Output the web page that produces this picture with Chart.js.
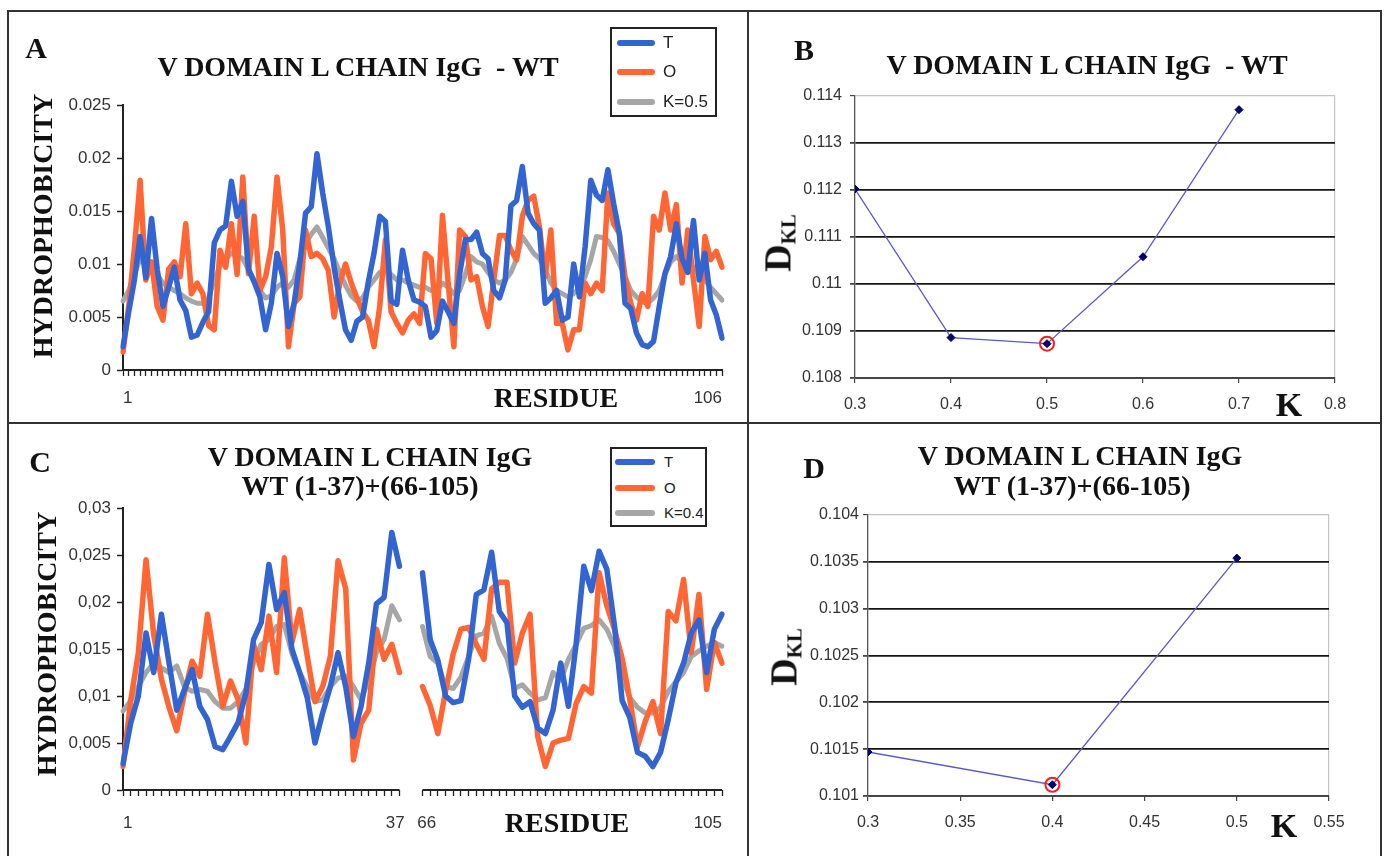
<!DOCTYPE html>
<html>
<head>
<meta charset="utf-8">
<script src="https://cdn.jsdelivr.net/npm/chart.js@4.4.1/dist/chart.umd.min.js"></script>
<style>
html,body{margin:0;padding:0;background:#fff;}
body{width:1385px;height:856px;overflow:hidden;position:relative;}
canvas{position:absolute;}
.frame{position:absolute;background:#333;}
.lbl{position:absolute;font-family:"Liberation Serif","Times New Roman",serif;font-weight:bold;color:#111;white-space:nowrap;line-height:1;transform:translate(-50%,-50%);}
.rot{transform:translate(-50%,-50%) rotate(-90deg);}
.legend{position:absolute;border:2px solid #222;box-sizing:border-box;background:#fff;}
.legrow{position:absolute;left:0;right:0;height:20px;}
.sw{position:absolute;height:6px;border-radius:3px;top:7px;}
.lt{position:absolute;top:0;font-family:"Liberation Sans",Arial,sans-serif;color:#222;line-height:20px;}
sub{font-size:0.55em;vertical-align:-0.25em;}
</style>
</head>
<body>
<!-- frame -->
<div class="frame" style="left:7px;top:10px;width:1375px;height:2px;"></div>
<div class="frame" style="left:7px;top:10px;width:2px;height:846px;"></div>
<div class="frame" style="left:1380px;top:10px;width:2px;height:846px;"></div>
<div class="frame" style="left:747px;top:10px;width:2px;height:846px;"></div>
<div class="frame" style="left:7px;top:422px;width:1375px;height:2px;"></div>

<canvas id="chartA" width="737" height="409" style="left:10px;top:13px;"></canvas>
<canvas id="chartB" width="630" height="409" style="left:749px;top:13px;"></canvas>
<canvas id="chartC" width="737" height="431" style="left:10px;top:425px;"></canvas>
<canvas id="chartD" width="630" height="431" style="left:749px;top:425px;"></canvas>

<!-- text overlays -->
<div class="lbl" style="left:36px;top:48px;font-size:30px;">A</div>
<div class="lbl" style="left:804px;top:50px;font-size:30px;">B</div>
<div class="lbl" style="left:40px;top:462px;font-size:30px;">C</div>
<div class="lbl" style="left:814px;top:468px;font-size:30px;">D</div>

<div class="lbl" style="left:358px;top:67px;font-size:28px;">V DOMAIN L CHAIN IgG&nbsp; - WT</div>
<div class="lbl" style="left:1087px;top:65px;font-size:28px;">V DOMAIN L CHAIN IgG&nbsp; - WT</div>
<div class="lbl" style="left:370px;top:457px;font-size:28px;">V DOMAIN L CHAIN IgG</div>
<div class="lbl" style="left:360px;top:486px;font-size:28px;">WT (1-37)+(66-105)</div>
<div class="lbl" style="left:1080px;top:456px;font-size:28px;">V DOMAIN L CHAIN IgG</div>
<div class="lbl" style="left:1072px;top:486px;font-size:28px;">WT (1-37)+(66-105)</div>

<div class="lbl rot" style="left:43px;top:226px;font-size:28px;">HYDROPHOBICITY</div>
<div class="lbl rot" style="left:47px;top:644px;font-size:28px;">HYDROPHOBICITY</div>
<div class="lbl" style="left:556px;top:398px;font-size:28px;">RESIDUE</div>
<div class="lbl" style="left:567px;top:823px;font-size:28px;">RESIDUE</div>

<div class="lbl rot" style="left:779px;top:243px;font-size:38px;">D<sub>KL</sub></div>
<div class="lbl rot" style="left:785px;top:657px;font-size:38px;">D<sub>KL</sub></div>
<div class="lbl" style="left:1289px;top:405px;font-size:34px;">K</div>
<div class="lbl" style="left:1284px;top:826px;font-size:34px;">K</div>

<div id="legA" class="legend" style="left:610px;top:27px;width:107px;height:90px;"></div>
<div id="legC" class="legend" style="left:610px;top:447px;width:97px;height:80px;"></div>

<script>
// ---------------- DATA ----------------
const seriesNames = ['T', 'O'];
const kLabelA = 'K=0.5';
const kLabelC = 'K=0.4';

// Panel A : residues 1..106
const residuesA = Array.from({length: 106}, (_, i) => String(i + 1));
const hydroA_T = [
 0.0022,0.0055,0.0085,0.0126,0.0087,0.0143,0.0095,0.006,0.0078,0.0097,
 0.0066,0.0056,0.0031,0.0033,0.0045,0.0055,0.012,0.0132,0.0136,0.0178,
 0.0145,0.0159,0.0095,0.0083,0.0069,0.0038,0.0063,0.011,0.0088,0.0041,
 0.0063,0.0101,0.0148,0.0154,0.0204,0.0167,0.0135,0.0097,0.0066,0.0038,
 0.0028,0.0046,0.005,0.0083,0.011,0.0145,0.014,0.0065,0.0062,0.0113,
 0.0085,0.0066,0.0064,0.006,0.0031,0.0037,0.0065,0.0055,0.0044,0.009,
 0.0123,0.0123,0.013,0.011,0.0105,0.0075,0.0068,0.0085,0.0155,0.016,
 0.0192,0.0148,0.0138,0.0132,0.0063,0.0068,0.0075,0.0047,0.005,0.01,
 0.0069,0.0116,0.0179,0.0165,0.016,0.0189,0.0157,0.0129,0.0063,0.0058,
 0.0035,0.0024,0.0022,0.0027,0.006,0.0091,0.0107,0.0138,0.0105,0.0092,
 0.0141,0.0085,0.011,0.0066,0.0052,0.003];
const hydroA_O = [
 0.0017,0.006,0.0115,0.0179,0.0085,0.0102,0.006,0.0047,0.0095,0.0102,
 0.0088,0.0138,0.0072,0.0082,0.0072,0.0042,0.0038,0.0113,0.0097,0.0138,
 0.009,0.0182,0.0091,0.0145,0.0075,0.0088,0.0116,0.0182,0.0132,0.0022,
 0.0063,0.0069,0.0132,0.0107,0.011,0.0105,0.0094,0.005,0.0082,0.01,
 0.0082,0.0068,0.0055,0.0047,0.0022,0.006,0.0123,0.0055,0.0044,0.0035,
 0.0047,0.0053,0.0044,0.011,0.0105,0.0044,0.0146,0.0082,0.0022,0.0132,
 0.0126,0.0085,0.0088,0.006,0.0041,0.0085,0.0127,0.0127,0.0113,0.0104,
 0.0145,0.016,0.0164,0.0135,0.0088,0.0132,0.0044,0.0044,0.0019,0.0038,
 0.0038,0.0082,0.0072,0.0082,0.0075,0.0167,0.0138,0.0129,0.0088,0.0063,
 0.0047,0.0072,0.006,0.0145,0.0132,0.0167,0.0132,0.0156,0.0082,0.0132,
 0.0085,0.0041,0.0126,0.0104,0.0112,0.0097];
const hydroA_K = [
 0.0065,0.0075,0.009,0.0105,0.0102,0.0098,0.009,0.0082,0.0078,0.0075,
 0.0072,0.0068,0.0065,0.0063,0.0063,0.0068,0.0085,0.0098,0.0105,0.011,
 0.0108,0.0105,0.0095,0.0085,0.0075,0.0068,0.007,0.0078,0.0082,0.0078,
 0.0085,0.0105,0.012,0.0128,0.0135,0.0125,0.0115,0.0105,0.0092,0.008,
 0.007,0.0065,0.0068,0.0078,0.0085,0.0092,0.0095,0.009,0.0085,0.0085,
 0.0082,0.008,0.0078,0.0078,0.0075,0.0075,0.0082,0.0078,0.0072,0.0075,
 0.009,0.0107,0.0102,0.01,0.0092,0.0085,0.0082,0.0085,0.0092,0.0105,
 0.0126,0.0118,0.011,0.0105,0.0095,0.0082,0.0075,0.0072,0.0069,0.0072,
 0.0078,0.0088,0.0104,0.0126,0.0125,0.0122,0.0112,0.01,0.0088,0.0075,
 0.0069,0.0064,0.0063,0.0068,0.0075,0.009,0.0102,0.0107,0.0102,0.0098,
 0.0097,0.009,0.0085,0.0078,0.0072,0.0066];
const yTicksA = [0, 0.005, 0.01, 0.015, 0.02, 0.025];
const yLabelsA = ['0', '0.005', '0.01', '0.015', '0.02', '0.025'];

// Panel C : residues 1..37 and 66..105
const residuesC1 = Array.from({length: 37}, (_, i) => String(i + 1));
const residuesC2 = Array.from({length: 40}, (_, i) => String(i + 66));
const hydroC1_T = [0.0028,0.0071,0.01,0.0167,0.0125,0.0187,0.0135,0.0085,0.0107,0.0128,
 0.0089,0.0075,0.0046,0.0043,0.0057,0.0072,0.0103,0.016,0.0178,0.024,
 0.0192,0.021,0.015,0.0125,0.0098,0.005,0.0082,0.011,0.0146,0.011,
 0.0057,0.0089,0.0135,0.0198,0.0205,0.0274,0.0238];
const hydroC1_O = [0.0025,0.0095,0.0146,0.0245,0.0165,0.0118,0.0088,0.0063,0.0103,0.0137,
 0.0121,0.0187,0.0135,0.0089,0.0116,0.0096,0.005,0.0155,0.0128,0.0185,
 0.0125,0.0247,0.0157,0.0192,0.0142,0.0094,0.011,0.0142,0.0244,0.0214,
 0.0032,0.0071,0.0085,0.0171,0.0139,0.0155,0.0125];
const hydroC1_K = [0.0084,0.0095,0.011,0.0125,0.0135,0.013,0.0125,0.0132,0.011,0.0105,
 0.0107,0.0105,0.0094,0.0087,0.0087,0.0094,0.0107,0.0135,0.0155,0.016,
 0.0174,0.0176,0.0145,0.0125,0.011,0.0094,0.0096,0.011,0.0119,0.0121,
 0.011,0.0096,0.0117,0.0146,0.016,0.0196,0.0181];
const hydroC2_T = [0.0231,0.016,0.0138,0.01,0.0093,0.0095,0.0139,0.0208,0.0213,0.0253,
 0.019,0.0178,0.01,0.0088,0.0094,0.0066,0.006,0.0085,0.0135,0.0089,
 0.0155,0.0238,0.0212,0.0254,0.0235,0.0175,0.0095,0.0077,0.004,0.0036,
 0.0025,0.004,0.0075,0.0114,0.0135,0.0167,0.0181,0.0125,0.0171,0.0187];
const hydroC2_O = [0.011,0.009,0.006,0.0105,0.0145,0.0171,0.0173,0.0155,0.0139,0.0214,
 0.0221,0.0221,0.0135,0.0167,0.0187,0.0057,0.0025,0.005,0.0053,0.0055,
 0.0092,0.011,0.0103,0.0231,0.0196,0.0171,0.014,0.0096,0.0046,0.0073,
 0.0094,0.006,0.019,0.018,0.0224,0.0146,0.0208,0.0107,0.0157,0.0135];
const hydroC2_K = [0.0174,0.0142,0.0135,0.011,0.0108,0.012,0.0142,0.0164,0.0167,0.0185,
 0.0156,0.014,0.0108,0.0112,0.0103,0.0096,0.0098,0.0125,0.0117,0.0139,
 0.0155,0.0172,0.0175,0.0181,0.0171,0.0153,0.012,0.0098,0.0088,0.0082,
 0.0082,0.0088,0.0105,0.0115,0.0125,0.0142,0.0148,0.0153,0.0157,0.0153];
const yTicksC = [0, 0.005, 0.01, 0.015, 0.02, 0.025, 0.03];
const yLabelsC = ['0', '0,005', '0,01', '0,015', '0,02', '0,025', '0,03'];

// Panel B
const kB = [0.3, 0.4, 0.5, 0.6, 0.7];
const dklB = [0.11202, 0.10886, 0.10873, 0.11058, 0.11371];
const xTicksB = [0.3, 0.4, 0.5, 0.6, 0.7, 0.8];
const xLabelsB = ['0.3', '0.4', '0.5', '0.6', '0.7', '0.8'];
const yTicksB = [0.108, 0.109, 0.110, 0.111, 0.112, 0.113, 0.114];
const yLabelsB = ['0.108', '0.109', '0.11', '0.111', '0.112', '0.113', '0.114'];

// Panel D
const kD = [0.3, 0.4, 0.5];
const dklD = [0.10147, 0.10112, 0.10354];
const xTicksD = [0.3, 0.35, 0.4, 0.45, 0.5, 0.55];
const xLabelsD = ['0.3', '0.35', '0.4', '0.45', '0.5', '0.55'];
const yTicksD = [0.101, 0.1015, 0.102, 0.1025, 0.103, 0.1035, 0.104];
const yLabelsD = ['0.101', '0.1015', '0.102', '0.1025', '0.103', '0.1035', '0.104'];

// ---------------- STYLE ----------------
const colT = '#3264d2';
const colO = '#ff6633';
const colK = '#a6a6a6';

Chart.defaults.font.family = "'Liberation Sans', Arial, sans-serif";
Chart.defaults.color = '#333';
Chart.defaults.animation = false;
Chart.defaults.plugins.legend.display = false;
Chart.defaults.plugins.tooltip.enabled = false;

// legends (HTML)
function buildLegend(id, items, swLeft, swW, txtLeft, rowCenters, fontSize) {
  const box = document.getElementById(id);
  items.forEach((it, i) => {
    const row = document.createElement('div');
    row.className = 'legrow';
    row.style.top = (rowCenters[i] - 10) + 'px';
    const sw = document.createElement('div');
    sw.className = 'sw';
    sw.style.left = swLeft + 'px'; sw.style.width = swW + 'px'; sw.style.background = it.color;
    const t = document.createElement('div');
    t.className = 'lt';
    t.style.left = txtLeft + 'px'; t.style.fontSize = fontSize + 'px';
    t.textContent = it.label;
    row.appendChild(sw); row.appendChild(t);
    box.appendChild(row);
  });
}
buildLegend('legA', [{label: seriesNames[0], color: colT}, {label: seriesNames[1], color: colO}, {label: kLabelA, color: colK}], 5, 38, 51, [14, 43, 73], 17);
buildLegend('legC', [{label: seriesNames[0], color: colT}, {label: seriesNames[1], color: colO}, {label: kLabelC, color: colK}], 3, 40, 52, [13, 39, 64], 15);

// broken x-axis plugin for panel C
const brokenAxis = {
  id: 'brokenAxis',
  afterDraw(chart, args, opts) {
    if (!opts.segments) return;
    const ctx = chart.ctx, xs = chart.scales.x, y = chart.chartArea.bottom;
    ctx.save();
    ctx.strokeStyle = '#222'; ctx.lineWidth = 2;
    opts.segments.forEach(([a, b]) => {
      ctx.beginPath();
      ctx.moveTo(xs.getPixelForValue(a) - (a === 0 ? 1 : 0), y);
      ctx.lineTo(xs.getPixelForValue(b), y);
      ctx.stroke();
    });
    ctx.restore();
  }
};
Chart.register(brokenAxis);

function profileChart(id, o) {
  return new Chart(document.getElementById(id), {
    type: 'line',
    data: {
      labels: o.labels,
      datasets: [
        {label: seriesNames[0], data: o.T, borderColor: colT, borderWidth: 5.5},
        {label: seriesNames[1], data: o.O, borderColor: colO, borderWidth: 5.5},
        {label: o.kLabel, data: o.K, borderColor: colK, borderWidth: 5}
      ].map(d => Object.assign(d, {pointRadius: 0, tension: 0, borderJoinStyle: 'round', borderCapStyle: 'round', spanGaps: false, fill: false}))
    },
    options: {
      responsive: false, maintainAspectRatio: false, devicePixelRatio: 1,
      layout: {padding: {top: o.padTop, right: o.padRight, left: 0, bottom: 0}},
      plugins: {brokenAxis: {segments: o.segments}},
      scales: {
        x: {
          type: 'category', offset: false,
          ticks: {autoSkip: false, maxRotation: 0, minRotation: 0, align: 'inner', padding: o.xPad,
                  font: {size: 17}, color: '#333',
                  callback: (v, i) => {
                    if (!o.shownX.includes(i)) return '';
                    const pad = (o.labelPad && o.labelPad[i]) || '';
                    return pad === 'after' ? o.labels[i] + '\u2002' : pad === 'before' ? '\u2002' + o.labels[i] : o.labels[i];
                  }},
          grid: {display: true, drawOnChartArea: false, drawTicks: true, tickLength: 6, tickWidth: 1.3,
                 tickColor: ctx => (o.hiddenTicks && o.hiddenTicks.includes(ctx.index)) ? 'rgba(0,0,0,0)' : '#222'},
          border: {display: !o.segments, color: '#222', width: 2},
          afterFit: s => { s.height = o.xH; }
        },
        y: {
          min: 0, max: o.yTicks[o.yTicks.length - 1],
          afterBuildTicks: s => { s.ticks = o.yTicks.map(v => ({value: v})); },
          ticks: {padding: 6, font: {size: 17}, color: '#333', callback: (v, i) => o.yLabels[i]},
          grid: {display: true, drawOnChartArea: false, drawTicks: true, tickLength: 6, tickWidth: 1.5, tickColor: '#222'},
          border: {display: true, color: '#222', width: 2},
          afterFit: s => { s.width = o.yW; }
        }
      }
    }
  });
}

profileChart('chartA', {
  labels: residuesA, T: hydroA_T, O: hydroA_O, K: hydroA_K, kLabel: kLabelA,
  yTicks: yTicksA, yLabels: yLabelsA,
  padTop: 92, padRight: 25, yW: 113, xH: 52, xPad: 12,
  shownX: [0, residuesA.length - 1]
});

const labelsC = [...residuesC1, '', '', ...residuesC2];
const gapC = [null, null];
const i37 = residuesC1.length - 1, i66 = residuesC1.length + gapC.length;
profileChart('chartC', {
  labels: labelsC,
  T: [...hydroC1_T, ...gapC, ...hydroC2_T],
  O: [...hydroC1_O, ...gapC, ...hydroC2_O],
  K: [...hydroC1_K, ...gapC, ...hydroC2_K],
  kLabel: kLabelC,
  yTicks: yTicksC, yLabels: yLabelsC,
  padTop: 83, padRight: 25, yW: 113, xH: 66, xPad: 17,
  shownX: [0, i37, i66, labelsC.length - 1],
  labelPad: {[i37]: 'after', [i66]: 'before'},
  hiddenTicks: [i37 + 1, i37 + 2],
  segments: [[0, i37], [i66, labelsC.length - 1]]
});

function dklChart(id, o) {
  const minIdx = o.d.indexOf(Math.min(...o.d));
  const lastY = o.yTicks.length - 1, lastX = o.xTicks.length - 1;
  return new Chart(document.getElementById(id), {
    type: 'line',
    data: {
      datasets: [
        {data: [{x: o.k[minIdx], y: o.d[minIdx]}], showLine: false, pointRadius: 7, pointBorderWidth: 2,
         pointBorderColor: '#ff1a1a', pointBackgroundColor: 'rgba(0,0,0,0)'},
        {data: o.k.map((k, i) => ({x: k, y: o.d[i]})), borderColor: '#5a5ac4', borderWidth: 1.3, tension: 0,
         pointStyle: 'rectRot', pointRadius: 4, pointBackgroundColor: '#00006e', pointBorderColor: '#00006e', pointBorderWidth: 1}
      ]
    },
    options: {
      responsive: false, maintainAspectRatio: false, devicePixelRatio: 1,
      layout: {padding: {top: o.padTop, right: o.padRight, left: 0, bottom: 0}},
      scales: {
        x: {
          type: 'linear', min: o.xTicks[0], max: o.xTicks[lastX],
          afterBuildTicks: s => { s.ticks = o.xTicks.map(v => ({value: v})); },
          ticks: {padding: 12, font: {size: 16}, color: '#333', maxRotation: 0, callback: (v, i) => o.xLabels[i]},
          grid: {display: true, drawOnChartArea: true, drawTicks: true, tickLength: 5, tickColor: '#444',
                 color: ctx => ctx.index === lastX ? '#c4c4c4' : 'rgba(0,0,0,0)', lineWidth: 1.2},
          border: {display: true, color: '#444', width: 1.5},
          afterFit: s => { s.height = o.xH; }
        },
        y: {
          min: o.yTicks[0], max: o.yTicks[lastY],
          afterBuildTicks: s => { s.ticks = o.yTicks.map(v => ({value: v})); },
          ticks: {padding: o.yPad, font: {size: 16}, color: '#333', callback: (v, i) => o.yLabels[i]},
          grid: {display: true, drawOnChartArea: true, drawTicks: true, tickLength: 5, tickColor: '#444',
                 color: ctx => ctx.index === lastY ? '#c4c4c4' : '#151515',
                 lineWidth: ctx => ctx.index === lastY ? 1.2 : 1.8},
          border: {display: true, color: '#555', width: 1.3},
          afterFit: s => { s.width = o.yW; }
        }
      }
    }
  });
}

dklChart('chartB', {
  k: kB, d: dklB, xTicks: xTicksB, xLabels: xLabelsB, yTicks: yTicksB, yLabels: yLabelsB,
  padTop: 83, padRight: 44, yW: 106, xH: 44, yPad: 8
});
dklChart('chartD', {
  k: kD, d: dklD, xTicks: xTicksD, xLabels: xLabelsD, yTicks: yTicksD, yLabels: yLabelsD,
  padTop: 90, padRight: 50, yW: 119, xH: 60, yPad: 4
});
</script>
</body>
</html>
